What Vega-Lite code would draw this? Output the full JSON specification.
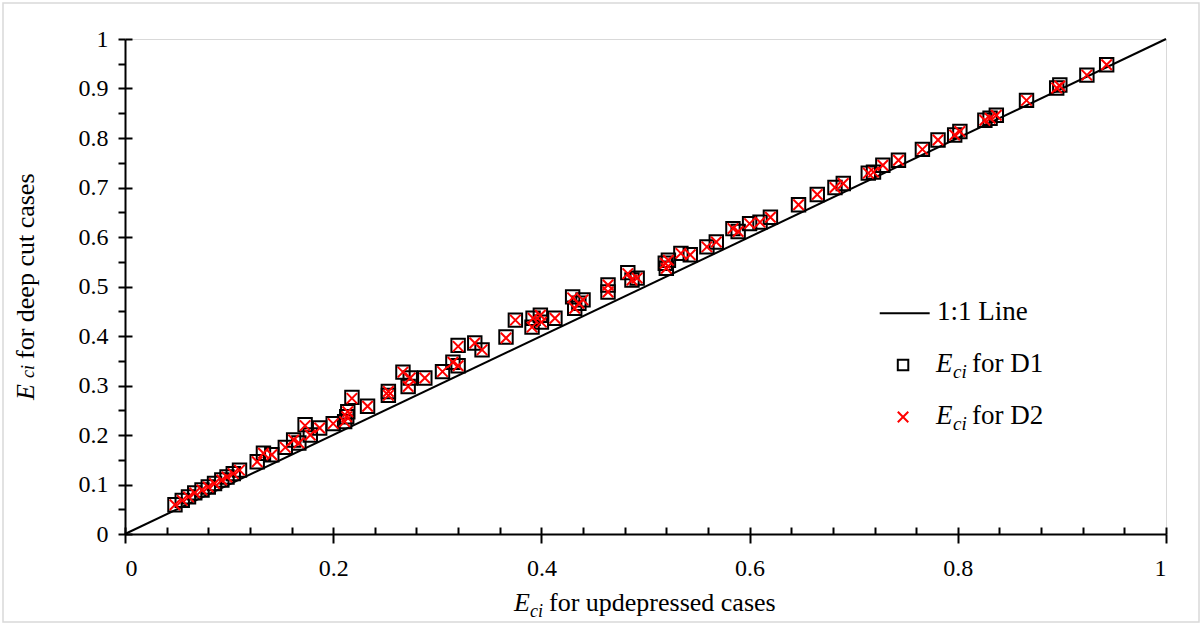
{
  "$schema": "https://vega.github.io/schema/vega-lite/v6.json",
  "width": 1041,
  "height": 495,
  "autosize": {"type": "none"},
  "padding": {"left": 125, "top": 39, "right": 37, "bottom": 93},
  "background": "white",
  "config": {
    "view": {"stroke": "#d9d9d9", "strokeWidth": 1},
    "font": "Liberation Serif",
    "axis": {"labelFont": "Liberation Serif", "labelFontSize": 24, "labelColor": "black", "grid": false}
  },
  "datasets": {
    "pts": [
      {"x": 0.048, "d1": 0.059, "d2": 0.059},
      {"x": 0.055, "d1": 0.068, "d2": 0.068},
      {"x": 0.061, "d1": 0.075, "d2": 0.075},
      {"x": 0.067, "d1": 0.083, "d2": 0.083},
      {"x": 0.074, "d1": 0.089, "d2": 0.089},
      {"x": 0.080, "d1": 0.095, "d2": 0.095},
      {"x": 0.086, "d1": 0.102, "d2": 0.102},
      {"x": 0.093, "d1": 0.109, "d2": 0.109},
      {"x": 0.098, "d1": 0.115, "d2": 0.115},
      {"x": 0.104, "d1": 0.122, "d2": 0.122},
      {"x": 0.110, "d1": 0.129, "d2": 0.129},
      {"x": 0.127, "d1": 0.146, "d2": 0.146},
      {"x": 0.133, "d1": 0.163, "d2": 0.163},
      {"x": 0.141, "d1": 0.160, "d2": 0.160},
      {"x": 0.154, "d1": 0.175, "d2": 0.175},
      {"x": 0.162, "d1": 0.190, "d2": 0.190},
      {"x": 0.167, "d1": 0.184, "d2": 0.184},
      {"x": 0.173, "d1": 0.221, "d2": 0.219},
      {"x": 0.178, "d1": 0.200, "d2": 0.200},
      {"x": 0.187, "d1": 0.214, "d2": 0.214},
      {"x": 0.200, "d1": 0.223, "d2": 0.223},
      {"x": 0.211, "d1": 0.227, "d2": 0.227},
      {"x": 0.213, "d1": 0.237, "d2": 0.237},
      {"x": 0.214, "d1": 0.247, "d2": 0.247},
      {"x": 0.218, "d1": 0.276, "d2": 0.274},
      {"x": 0.233, "d1": 0.258, "d2": 0.258},
      {"x": 0.253, "d1": 0.288, "d2": 0.288},
      {"x": 0.253, "d1": 0.280, "d2": 0.280},
      {"x": 0.267, "d1": 0.327, "d2": 0.327},
      {"x": 0.274, "d1": 0.315, "d2": 0.315},
      {"x": 0.272, "d1": 0.298, "d2": 0.298},
      {"x": 0.288, "d1": 0.315, "d2": 0.315},
      {"x": 0.305, "d1": 0.328, "d2": 0.328},
      {"x": 0.315, "d1": 0.347, "d2": 0.347},
      {"x": 0.320, "d1": 0.340, "d2": 0.340},
      {"x": 0.320, "d1": 0.381, "d2": 0.379},
      {"x": 0.336, "d1": 0.386, "d2": 0.386},
      {"x": 0.343, "d1": 0.372, "d2": 0.372},
      {"x": 0.366, "d1": 0.398, "d2": 0.396},
      {"x": 0.375, "d1": 0.432, "d2": 0.432},
      {"x": 0.391, "d1": 0.418, "d2": 0.418},
      {"x": 0.392, "d1": 0.436, "d2": 0.436},
      {"x": 0.399, "d1": 0.442, "d2": 0.442},
      {"x": 0.400, "d1": 0.428, "d2": 0.428},
      {"x": 0.413, "d1": 0.436, "d2": 0.436},
      {"x": 0.430, "d1": 0.479, "d2": 0.477},
      {"x": 0.432, "d1": 0.456, "d2": 0.456},
      {"x": 0.436, "d1": 0.466, "d2": 0.466},
      {"x": 0.440, "d1": 0.473, "d2": 0.473},
      {"x": 0.464, "d1": 0.503, "d2": 0.503},
      {"x": 0.464, "d1": 0.489, "d2": 0.489},
      {"x": 0.483, "d1": 0.528, "d2": 0.526},
      {"x": 0.487, "d1": 0.513, "d2": 0.513},
      {"x": 0.492, "d1": 0.517, "d2": 0.517},
      {"x": 0.519, "d1": 0.547, "d2": 0.547},
      {"x": 0.522, "d1": 0.553, "d2": 0.553},
      {"x": 0.520, "d1": 0.537, "d2": 0.537},
      {"x": 0.534, "d1": 0.567, "d2": 0.567},
      {"x": 0.543, "d1": 0.564, "d2": 0.564},
      {"x": 0.559, "d1": 0.580, "d2": 0.580},
      {"x": 0.568, "d1": 0.590, "d2": 0.590},
      {"x": 0.584, "d1": 0.617, "d2": 0.617},
      {"x": 0.589, "d1": 0.611, "d2": 0.611},
      {"x": 0.600, "d1": 0.627, "d2": 0.627},
      {"x": 0.610, "d1": 0.630, "d2": 0.630},
      {"x": 0.620, "d1": 0.640, "d2": 0.640},
      {"x": 0.647, "d1": 0.665, "d2": 0.665},
      {"x": 0.665, "d1": 0.686, "d2": 0.686},
      {"x": 0.682, "d1": 0.700, "d2": 0.700},
      {"x": 0.690, "d1": 0.708, "d2": 0.708},
      {"x": 0.714, "d1": 0.729, "d2": 0.729},
      {"x": 0.719, "d1": 0.731, "d2": 0.731},
      {"x": 0.728, "d1": 0.745, "d2": 0.745},
      {"x": 0.743, "d1": 0.755, "d2": 0.755},
      {"x": 0.766, "d1": 0.777, "d2": 0.777},
      {"x": 0.781, "d1": 0.796, "d2": 0.796},
      {"x": 0.797, "d1": 0.806, "d2": 0.806},
      {"x": 0.802, "d1": 0.813, "d2": 0.813},
      {"x": 0.826, "d1": 0.836, "d2": 0.836},
      {"x": 0.831, "d1": 0.840, "d2": 0.840},
      {"x": 0.837, "d1": 0.846, "d2": 0.846},
      {"x": 0.866, "d1": 0.876, "d2": 0.876},
      {"x": 0.895, "d1": 0.901, "d2": 0.901},
      {"x": 0.898, "d1": 0.907, "d2": 0.905},
      {"x": 0.924, "d1": 0.927, "d2": 0.927},
      {"x": 0.943, "d1": 0.948, "d2": 0.948}
    ],
    "diag": [{"u": 0, "v": 0}, {"u": 1, "v": 1}],
    "one": [{"k": 1}]
  },
  "resolve": {"axis": {"x": "independent", "y": "independent"}},
  "layer": [
    {
      "data": {"name": "one"},
      "mark": {"type": "rect", "fill": null, "stroke": "#d9d9d9", "strokeWidth": 1.5},
      "encoding": {
        "x": {"datum": -0.1172, "type": "quantitative", "scale": {"domain": [0, 1], "nice": false}, "axis": null},
        "x2": {"datum": 1.0317},
        "y": {"datum": 1.0727, "type": "quantitative", "scale": {"domain": [0, 1], "nice": false}, "axis": null},
        "y2": {"datum": -0.1778}
      }
    },
    {
      "data": {"name": "diag"},
      "mark": {"type": "line", "color": "black", "strokeWidth": 2},
      "encoding": {
        "x": {"field": "u", "type": "quantitative", "scale": {"domain": [0, 1], "nice": false},
          "axis": {"orient": "bottom", "values": [0,0.04,0.08,0.12,0.16,0.2,0.24,0.28,0.32,0.36,0.4,0.44,0.48,0.52,0.56,0.6,0.64,0.68,0.72,0.76,0.8,0.84,0.88,0.92,0.96,1], "offset": -7, "tickSize": 7, "tickWidth": 2, "tickColor": "black", "domain": false, "labels": false, "grid": false, "title": null}},
        "y": {"field": "v", "type": "quantitative", "scale": {"domain": [0, 1], "nice": false},
          "axis": {"orient": "left", "values": [0,0.1,0.2,0.3,0.4,0.5,0.6,0.7,0.8,0.9,1], "offset": -7, "tickSize": 7, "tickWidth": 2, "tickColor": "black", "domain": false, "labels": false, "grid": false, "title": null}}
      }
    },
    {
      "data": {"name": "pts"},
      "mark": {"type": "point", "shape": "square", "filled": false, "stroke": "black", "strokeWidth": 2, "size": 180, "opacity": 1},
      "encoding": {
        "x": {"field": "x", "type": "quantitative", "scale": {"domain": [0, 1], "nice": false},
          "axis": {"orient": "bottom", "values": [0,0.2,0.4,0.6,0.8,1], "tickSize": 9, "tickWidth": 2, "tickColor": "black", "domainColor": "black", "domainWidth": 2, "labelPadding": 13, "format": "~g", "labelFont": "Liberation Serif", "labelFontSize": 24, "labelColor": "black", "grid": false, "title": null}},
        "y": {"field": "d1", "type": "quantitative", "scale": {"domain": [0, 1], "nice": false},
          "axis": {"orient": "left", "values": [0,0.1,0.2,0.3,0.4,0.5,0.6,0.7,0.8,0.9,1], "tickSize": 7, "tickWidth": 2, "tickColor": "black", "domainColor": "black", "domainWidth": 2, "labelPadding": 10, "format": "~g", "labelFont": "Liberation Serif", "labelFontSize": 24, "labelColor": "black", "grid": false, "title": null}}
      }
    },
    {
      "data": {"name": "pts"},
      "mark": {"type": "point", "shape": "M-1,-1L1,1M-1,1L1,-1", "filled": false, "stroke": "#ff0000", "strokeWidth": 2, "size": 110, "opacity": 1},
      "encoding": {
        "x": {"field": "x", "type": "quantitative", "scale": {"domain": [0, 1], "nice": false}, "axis": null},
        "y": {"field": "d2", "type": "quantitative", "scale": {"domain": [0, 1], "nice": false},
          "axis": {"orient": "left", "values": [0.05,0.15,0.25,0.35,0.45,0.55,0.65,0.75,0.85,0.95], "tickSize": 7, "tickWidth": 2, "tickColor": "black", "domain": false, "labels": false, "grid": false, "title": null}}
      }
    },
    {
      "data": {"name": "one"},
      "mark": {"type": "rule", "color": "black", "strokeWidth": 2},
      "encoding": {
        "x": {"datum": 0.725, "type": "quantitative", "scale": {"domain": [0, 1], "nice": false}, "axis": null},
        "x2": {"datum": 0.773},
        "y": {"datum": 0.446, "type": "quantitative", "scale": {"domain": [0, 1], "nice": false}, "axis": null}
      }
    },
    {
      "data": {"name": "one"},
      "mark": {"type": "point", "shape": "square", "filled": false, "stroke": "black", "strokeWidth": 2, "size": 110, "opacity": 1},
      "encoding": {
        "x": {"datum": 0.7474, "type": "quantitative", "scale": {"domain": [0, 1], "nice": false}, "axis": null},
        "y": {"datum": 0.3414, "type": "quantitative", "scale": {"domain": [0, 1], "nice": false}, "axis": null}
      }
    },
    {
      "data": {"name": "one"},
      "mark": {"type": "point", "shape": "M-1,-1L1,1M-1,1L1,-1", "filled": false, "stroke": "#ff0000", "strokeWidth": 2, "size": 110, "opacity": 1},
      "encoding": {
        "x": {"datum": 0.7474, "type": "quantitative", "scale": {"domain": [0, 1], "nice": false}, "axis": null},
        "y": {"datum": 0.2364, "type": "quantitative", "scale": {"domain": [0, 1], "nice": false}, "axis": null}
      }
    },
    {
      "data": {"name": "one"},
      "mark": {"type": "text", "font": "Liberation Serif", "fontSize": 27, "align": "left", "baseline": "alphabetic", "color": "black"},
      "encoding": {
        "x": {"datum": 0.78, "type": "quantitative", "scale": {"domain": [0, 1], "nice": false}, "axis": null},
        "y": {"datum": 0.4323, "type": "quantitative", "scale": {"domain": [0, 1], "nice": false}, "axis": null},
        "text": {"value": "1:1 Line"}
      }
    },
    {
      "data": {"name": "one"},
      "mark": {"type": "text", "font": "Liberation Serif", "fontSize": 27, "fontStyle": "italic", "align": "left", "baseline": "alphabetic", "color": "black"},
      "encoding": {
        "x": {"datum": 0.7791, "type": "quantitative", "scale": {"domain": [0, 1], "nice": false}, "axis": null},
        "y": {"datum": 0.3273, "type": "quantitative", "scale": {"domain": [0, 1], "nice": false}, "axis": null},
        "text": {"value": "E"}
      }
    },
    {
      "data": {"name": "one"},
      "mark": {"type": "text", "font": "Liberation Serif", "fontSize": 19, "fontStyle": "italic", "align": "left", "baseline": "alphabetic", "color": "black", "dy": 6},
      "encoding": {
        "x": {"datum": 0.7954, "type": "quantitative", "scale": {"domain": [0, 1], "nice": false}, "axis": null},
        "y": {"datum": 0.3273, "type": "quantitative", "scale": {"domain": [0, 1], "nice": false}, "axis": null},
        "text": {"value": "ci"}
      }
    },
    {
      "data": {"name": "one"},
      "mark": {"type": "text", "font": "Liberation Serif", "fontSize": 27, "align": "left", "baseline": "alphabetic", "color": "black"},
      "encoding": {
        "x": {"datum": 0.8136, "type": "quantitative", "scale": {"domain": [0, 1], "nice": false}, "axis": null},
        "y": {"datum": 0.3273, "type": "quantitative", "scale": {"domain": [0, 1], "nice": false}, "axis": null},
        "text": {"value": "for D1"}
      }
    },
    {
      "data": {"name": "one"},
      "mark": {"type": "text", "font": "Liberation Serif", "fontSize": 27, "fontStyle": "italic", "align": "left", "baseline": "alphabetic", "color": "black"},
      "encoding": {
        "x": {"datum": 0.7791, "type": "quantitative", "scale": {"domain": [0, 1], "nice": false}, "axis": null},
        "y": {"datum": 0.2222, "type": "quantitative", "scale": {"domain": [0, 1], "nice": false}, "axis": null},
        "text": {"value": "E"}
      }
    },
    {
      "data": {"name": "one"},
      "mark": {"type": "text", "font": "Liberation Serif", "fontSize": 19, "fontStyle": "italic", "align": "left", "baseline": "alphabetic", "color": "black", "dy": 6},
      "encoding": {
        "x": {"datum": 0.7954, "type": "quantitative", "scale": {"domain": [0, 1], "nice": false}, "axis": null},
        "y": {"datum": 0.2222, "type": "quantitative", "scale": {"domain": [0, 1], "nice": false}, "axis": null},
        "text": {"value": "ci"}
      }
    },
    {
      "data": {"name": "one"},
      "mark": {"type": "text", "font": "Liberation Serif", "fontSize": 27, "align": "left", "baseline": "alphabetic", "color": "black"},
      "encoding": {
        "x": {"datum": 0.8136, "type": "quantitative", "scale": {"domain": [0, 1], "nice": false}, "axis": null},
        "y": {"datum": 0.2222, "type": "quantitative", "scale": {"domain": [0, 1], "nice": false}, "axis": null},
        "text": {"value": "for D2"}
      }
    },
    {
      "data": {"name": "one"},
      "mark": {"type": "text", "font": "Liberation Serif", "fontSize": 26, "fontStyle": "italic", "align": "left", "baseline": "alphabetic", "color": "black"},
      "encoding": {
        "x": {"datum": 0.3737, "type": "quantitative", "scale": {"domain": [0, 1], "nice": false}, "axis": null},
        "y": {"datum": -0.1556, "type": "quantitative", "scale": {"domain": [0, 1], "nice": false}, "axis": null},
        "text": {"value": "E"}
      }
    },
    {
      "data": {"name": "one"},
      "mark": {"type": "text", "font": "Liberation Serif", "fontSize": 18, "fontStyle": "italic", "align": "left", "baseline": "alphabetic", "color": "black", "dy": 6},
      "encoding": {
        "x": {"datum": 0.389, "type": "quantitative", "scale": {"domain": [0, 1], "nice": false}, "axis": null},
        "y": {"datum": -0.1556, "type": "quantitative", "scale": {"domain": [0, 1], "nice": false}, "axis": null},
        "text": {"value": "ci"}
      }
    },
    {
      "data": {"name": "one"},
      "mark": {"type": "text", "font": "Liberation Serif", "fontSize": 26, "align": "left", "baseline": "alphabetic", "color": "black"},
      "encoding": {
        "x": {"datum": 0.4073, "type": "quantitative", "scale": {"domain": [0, 1], "nice": false}, "axis": null},
        "y": {"datum": -0.1556, "type": "quantitative", "scale": {"domain": [0, 1], "nice": false}, "axis": null},
        "text": {"value": "for updepressed cases"}
      }
    },
    {
      "data": {"name": "one"},
      "mark": {"type": "text", "font": "Liberation Serif", "fontSize": 26, "fontStyle": "italic", "align": "left", "baseline": "alphabetic", "color": "black", "angle": 270},
      "encoding": {
        "x": {"datum": -0.0874, "type": "quantitative", "scale": {"domain": [0, 1], "nice": false}, "axis": null},
        "y": {"datum": 0.2708, "type": "quantitative", "scale": {"domain": [0, 1], "nice": false}, "axis": null},
        "text": {"value": "E"}
      }
    },
    {
      "data": {"name": "one"},
      "mark": {"type": "text", "font": "Liberation Serif", "fontSize": 18, "fontStyle": "italic", "align": "left", "baseline": "alphabetic", "color": "black", "angle": 270, "dx": 6},
      "encoding": {
        "x": {"datum": -0.0874, "type": "quantitative", "scale": {"domain": [0, 1], "nice": false}, "axis": null},
        "y": {"datum": 0.3031, "type": "quantitative", "scale": {"domain": [0, 1], "nice": false}, "axis": null},
        "text": {"value": "ci"}
      }
    },
    {
      "data": {"name": "one"},
      "mark": {"type": "text", "font": "Liberation Serif", "fontSize": 26, "align": "left", "baseline": "alphabetic", "color": "black", "angle": 270},
      "encoding": {
        "x": {"datum": -0.0874, "type": "quantitative", "scale": {"domain": [0, 1], "nice": false}, "axis": null},
        "y": {"datum": 0.3535, "type": "quantitative", "scale": {"domain": [0, 1], "nice": false}, "axis": null},
        "text": {"value": "for deep cut cases"}
      }
    }
  ]
}
